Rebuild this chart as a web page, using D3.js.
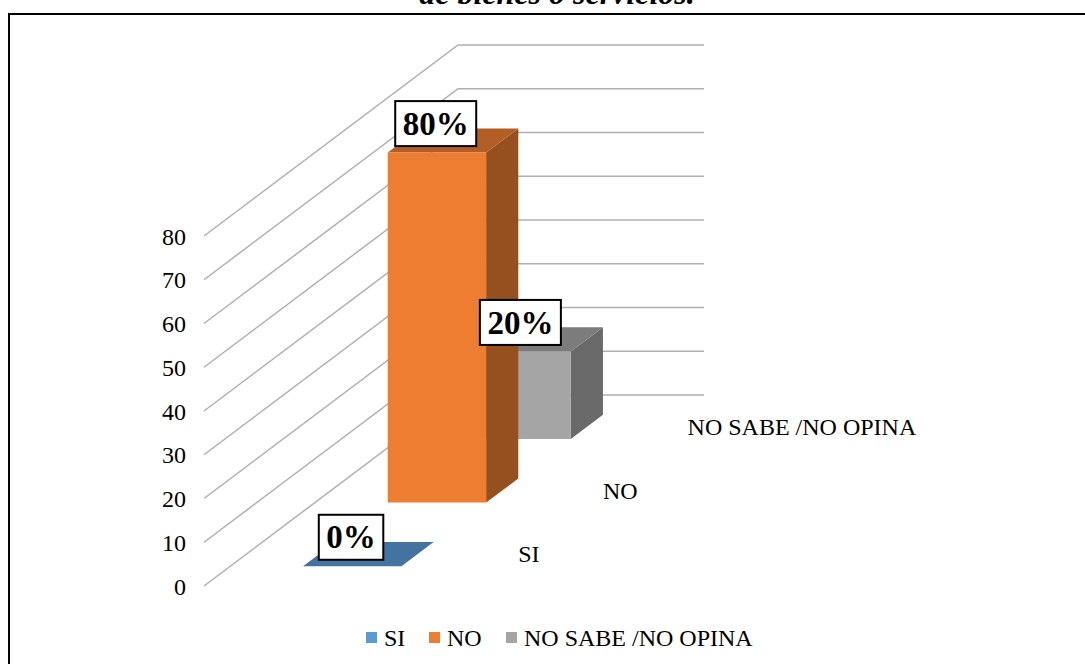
<!DOCTYPE html>
<html>
<head>
<meta charset="utf-8">
<script src="https://cdn.jsdelivr.net/npm/d3@7"></script>
<style>
  html, body { margin: 0; padding: 0; background: #fff; overflow: hidden; }
  text { font-family: "Liberation Serif", serif; fill: #000; }
</style>
</head>
<body>
<svg id="chart" width="1085" height="664"></svg>
<script>
// Survey answers, in percent
const categories = ["SI", "NO", "NO SABE /NO OPINA"];
const values = [0, 80, 20];
const valueLabels = ["0%", "80%", "20%"];
const axisTicks = [0, 10, 20, 30, 40, 50, 60, 70, 80];
const frontColors = ["#5b9bd5", "#ed7d31", "#a5a5a5"];
const topColors = ["#44739f", "#b25e25", "#7c7c7c"];
const sideColors = ["#3a6188", "#964f1f", "#696969"];
const titleText = "de bienes o servicios.";

const svg = d3.select("#chart");

// Oblique projection: the floor runs along x (across) and t (into the page)
const floorWidth = 246, depthX = 254, depthY = -191;
const origin = { x: 204, y: 586 };
const y = d3.scaleLinear().domain([0, 80]).range([0, -350]);
const across = d3.scaleBand().domain(["bar"]).range([-1, floorWidth - 1]).paddingOuter(0.75);
const depth = d3.scaleBand().domain(categories).range([0, 1]).paddingInner(0.62).paddingOuter(0.31);

function project(xv, t, v) {
  return [origin.x + xv + t * depthX, origin.y + t * depthY + y(v)];
}
const line = d3.line();

// Caption line above the frame, cut by the top of the page
svg.append("text").attr("x", 557).attr("y", 4).attr("text-anchor", "middle")
  .attr("font-size", 32).attr("font-weight", "bold").attr("font-style", "italic").text(titleText);

// Outer frame; its right and bottom sides lie outside the page
svg.append("rect").attr("x", 9).attr("y", 14).attr("width", 1100).attr("height", 700)
  .attr("fill", "none").attr("stroke", "#000").attr("stroke-width", 2);

// Gridlines on the side wall and the back wall
svg.append("g").selectAll("path").data(axisTicks).join("path")
  .attr("d", d => line([project(0, 0, d), project(0, 1, d), project(floorWidth, 1, d)]))
  .attr("fill", "none").attr("stroke", "#b0b0b0").attr("stroke-width", 1.5);

// Value axis labels
svg.append("g").selectAll("text").data(axisTicks).join("text")
  .attr("x", 186).attr("y", d => project(0, 0, d)[1]).attr("dy", "0.36em")
  .attr("text-anchor", "end").attr("font-size", 24).text(d => d);

// Bars as three visible faces, back to front
const bars = categories.map((c, i) => ({ c, i, v: values[i] }));
const barLeft = across("bar"), barRight = barLeft + across.bandwidth();
const g = svg.append("g");
bars.slice().reverse().forEach(b => {
  const t0 = depth(b.c), t1 = t0 + depth.bandwidth();
  g.append("path").attr("fill", sideColors[b.i]).attr("d", line([
    project(barRight, t0, 0), project(barRight, t1, 0), project(barRight, t1, b.v), project(barRight, t0, b.v)]) + "Z");
  g.append("path").attr("fill", topColors[b.i]).attr("d", line([
    project(barLeft, t0, b.v), project(barRight, t0, b.v), project(barRight, t1, b.v), project(barLeft, t1, b.v)]) + "Z");
  g.append("path").attr("fill", frontColors[b.i]).attr("d", line([
    project(barLeft, t0, 0), project(barRight, t0, 0), project(barRight, t0, b.v), project(barLeft, t0, b.v)]) + "Z");
});

// Category labels along the right edge of the floor
svg.append("g").selectAll("text").data(categories).join("text")
  .attr("x", d => project(floorWidth, depth(d), 0)[0] + 42)
  .attr("y", d => project(floorWidth, depth(d), 0)[1] - 4)
  .attr("font-size", 24).text(d => d);

// Boxed value labels sitting on the bar tops
const labelBoxes = svg.append("g").selectAll("g").data(bars).join("g")
  .attr("transform", d => {
    const p = project(barLeft, depth(d.c), d.v);
    return `translate(${p[0] + 48},${p[1] - 29})`;
  });
labelBoxes.each(function (d) {
  const sel = d3.select(this);
  const txt = sel.append("text").attr("text-anchor", "middle").attr("font-size", 33)
    .attr("font-weight", "bold").attr("dy", "0.34em").text(valueLabels[d.i]);
  const w = txt.node().getComputedTextLength() + 15;
  sel.insert("rect", "text").attr("x", -w / 2).attr("y", -22.5).attr("width", w).attr("height", 45)
    .attr("fill", "#fff").attr("stroke", "#000").attr("stroke-width", 2);
});

// Legend
const legend = svg.append("g");
const legendX = [366, 429, 506];
categories.forEach((c, i) => {
  legend.append("rect").attr("x", legendX[i]).attr("y", 632).attr("width", 11).attr("height", 11).attr("fill", frontColors[i]);
  legend.append("text").attr("x", legendX[i] + 18).attr("y", 646).attr("font-size", 24).text(c);
});
</script>
</body>
</html>
